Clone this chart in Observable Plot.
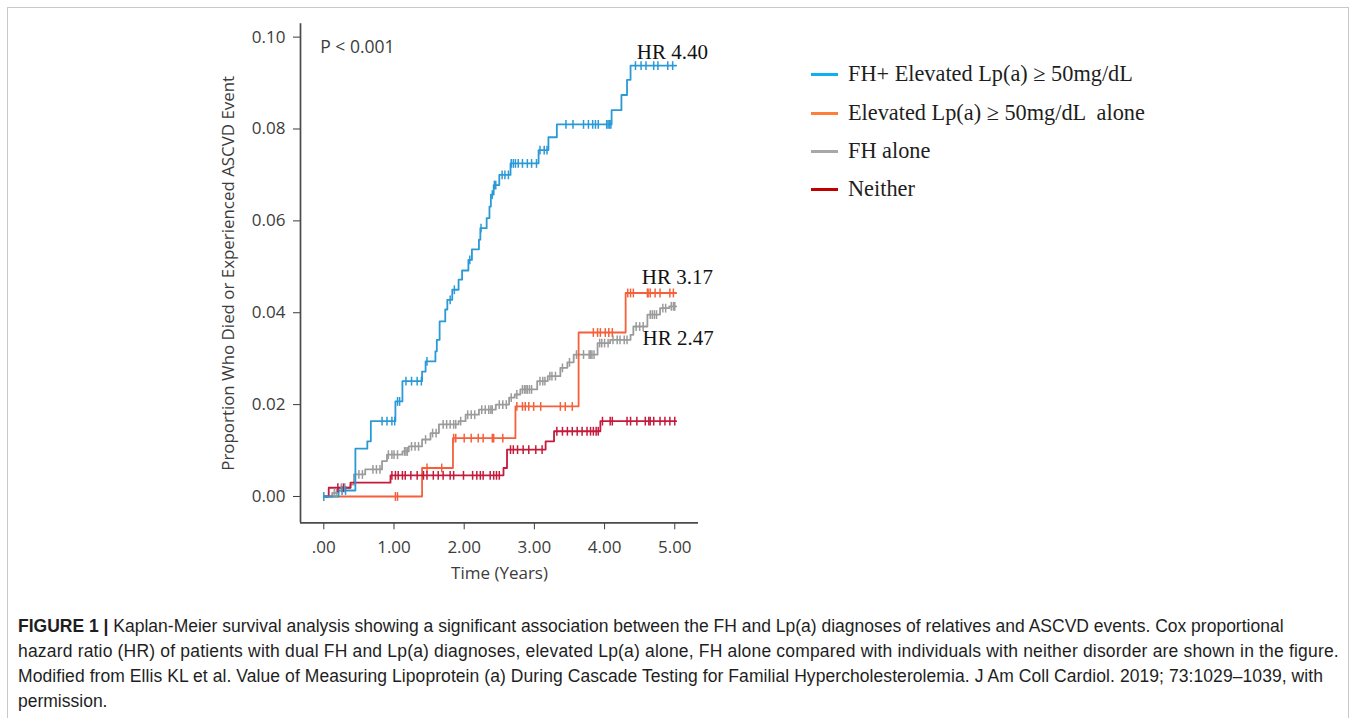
<!DOCTYPE html>
<html>
<head>
<meta charset="utf-8">
<script src="https://cdn.jsdelivr.net/npm/d3@7"></script>
<script src="https://cdn.jsdelivr.net/npm/@observablehq/plot@0.6"></script>
<style>
  body { margin: 0; background: #fff; width: 1355px; height: 718px; overflow: hidden; position: relative; font-family: "Liberation Sans", Arial, sans-serif; }
  #frame { position: absolute; left: 7px; top: 7px; width: 1340px; height: 730px; border: 1px solid #c8c8c8; }
  #chart { position: absolute; left: 200px; top: 10px; }
  #legend { position: absolute; left: 811px; top: 0px; font-family: "Liberation Serif", "Times New Roman", serif; font-size: 22.3px; color: #1e1e1e; }
  .item { position: absolute; left: 0; white-space: pre; height: 26px; line-height: 26px; }
  .swatch { display: inline-block; width: 27px; height: 3px; vertical-align: middle; margin-right: 10px; position: relative; top: -1px; }
  #caption { position: absolute; left: 18px; top: 614px; font-size: 17.5px; line-height: 25px; color: #1e1e1e; white-space: nowrap; }
</style>
</head>
<body>
<div id="frame"></div>
<div id="chart"></div>
<div id="legend"></div>
<div id="caption"></div>
<script>
// ---------- data ----------
const seriesNames = ["FH+ Elevated Lp(a) \u2265 50mg/dL", "Elevated Lp(a) \u2265 50mg/dL  alone", "FH alone", "Neither"];
const lineColors = ["#2a9ad6", "#f5603a", "#9b9b9b", "#c41a3c"];
const legendColors = ["#0fb0ee", "#ff7f3a", "#a8a8a8", "#c00000"];

const blueT = [0, 0.21, 0.45, 0.62, 0.67, 1.02, 1.12, 1.40, 1.45, 1.59, 1.61, 1.65, 1.73, 1.76, 1.83, 1.92, 1.97, 2.06, 2.11, 2.21, 2.23, 2.32, 2.36, 2.38, 2.42, 2.50, 2.66, 3.06, 3.20, 3.32, 4.10, 4.24, 4.32, 4.37, 5.02];
const blueV = [0, 0.0013, 0.0104, 0.012, 0.0164, 0.0207, 0.0251, 0.0272, 0.0294, 0.0316, 0.0341, 0.0381, 0.0407, 0.0428, 0.045, 0.0472, 0.0492, 0.0515, 0.0538, 0.0559, 0.0584, 0.0606, 0.0631, 0.0657, 0.0678, 0.070, 0.0725, 0.0754, 0.0782, 0.081, 0.0841, 0.0874, 0.0907, 0.0938, 0.0938];
const blueCensor = [0, 0.26, 0.31, 0.83, 0.90, 0.97, 1.01, 1.05, 1.08, 1.17, 1.25, 1.33, 1.39, 1.47, 1.80, 1.86, 2.08, 2.24, 2.40, 2.43, 2.45, 2.54, 2.58, 2.63, 2.67, 2.70, 2.73, 2.77, 2.83, 2.90, 2.96, 3.03, 3.08, 3.14, 3.18, 3.45, 3.55, 3.70, 3.77, 3.83, 3.87, 3.91, 4.03, 4.05, 4.07, 4.09, 4.44, 4.52, 4.59, 4.70, 4.76, 4.90, 4.97];

const orangeT = [0, 1.40, 1.84, 2.73, 3.63, 4.30, 5.02];
const orangeV = [0, 0.0062, 0.0127, 0.0196, 0.0357, 0.0443, 0.0443];
const orangeCensor = [1.02, 1.05, 1.47, 1.68, 1.85, 1.88, 2.0, 2.1, 2.2, 2.27, 2.40, 2.42, 2.55, 2.75, 2.83, 2.87, 2.92, 2.99, 3.09, 3.37, 3.44, 3.54, 3.84, 3.90, 3.94, 4.01, 4.06, 4.11, 4.33, 4.37, 4.41, 4.61, 4.62, 4.65, 4.72, 4.79, 4.93, 4.98];

const grayT = [0, 0.12, 0.21, 0.38, 0.43, 0.59, 0.83, 0.90, 1.12, 1.21, 1.40, 1.52, 1.64, 1.92, 2.02, 2.21, 2.45, 2.64, 2.72, 2.80, 3.04, 3.19, 3.37, 3.47, 3.56, 3.90, 4.08, 4.37, 4.41, 4.61, 4.79, 4.92, 5.02];
const grayV = [0, 0.0008, 0.0019, 0.0026, 0.0048, 0.0059, 0.0077, 0.0091, 0.0098, 0.0109, 0.0124, 0.0138, 0.0157, 0.0164, 0.0178, 0.0189, 0.020, 0.0215, 0.0222, 0.0233, 0.0251, 0.0262, 0.028, 0.0292, 0.0309, 0.0334, 0.0341, 0.0352, 0.037, 0.0396, 0.041, 0.0414, 0.0414];
const grayCensor = [0.15, 0.18, 0.25, 0.30, 0.50, 0.55, 0.70, 0.75, 0.80, 0.92, 0.97, 1.00, 1.05, 1.15, 1.17, 1.19, 1.25, 1.30, 1.35, 1.45, 1.55, 1.60, 1.70, 1.75, 1.80, 1.85, 1.88, 1.95, 2.05, 2.10, 2.15, 2.25, 2.30, 2.35, 2.38, 2.40, 2.50, 2.55, 2.60, 2.67, 2.75, 2.83, 2.86, 2.88, 2.90, 2.93, 2.96, 3.08, 3.12, 3.15, 3.22, 3.25, 3.30, 3.40, 3.50, 3.60, 3.70, 3.78, 3.80, 3.82, 3.85, 3.93, 3.96, 4.00, 4.05, 4.12, 4.18, 4.22, 4.28, 4.32, 4.45, 4.50, 4.55, 4.65, 4.68, 4.71, 4.74, 4.83, 4.87, 4.95, 4.98, 5.00];

const redT = [0, 0.07, 0.38, 0.95, 2.56, 2.61, 3.16, 3.28, 3.94, 5.02];
const redV = [0, 0.0019, 0.003, 0.0046, 0.0062, 0.0102, 0.012, 0.0142, 0.0164, 0.0164];
const redCensor = [0.20, 0.28, 0.97, 1.02, 1.06, 1.12, 1.16, 1.24, 1.33, 1.42, 1.47, 1.56, 1.63, 1.70, 1.80, 1.85, 1.99, 2.12, 2.18, 2.23, 2.27, 2.37, 2.42, 2.46, 2.50, 2.66, 2.70, 2.76, 2.84, 2.92, 3.02, 3.11, 3.32, 3.40, 3.47, 3.54, 3.61, 3.68, 3.75, 3.80, 3.84, 3.88, 3.91, 3.97, 4.08, 4.11, 4.32, 4.37, 4.46, 4.58, 4.63, 4.65, 4.70, 4.79, 4.86, 4.93, 5.00];

const xTicks = [0, 1, 2, 3, 4, 5];
const yTicks = [0, 0.02, 0.04, 0.06, 0.08, 0.10];
const xTitle = "Time (Years)";
const yTitle = "Proportion Who Died or Experienced ASCVD Event";
const pLabel = "P < 0.001";
const hrLabels = ["HR 4.40", "HR 3.17", "HR 2.47"];
const hrT = [4.46, 4.53, 4.54];
const hrV = [0.0968, 0.0478, 0.0345];

// ---------- build tables ----------
const curves = [[blueT, blueV, blueCensor], [orangeT, orangeV, orangeCensor], [grayT, grayV, grayCensor], [redT, redV, redCensor]];
const lineRows = [];
const censorRows = [];
curves.forEach(([T, V, C], i) => {
  T.forEach((t, j) => lineRows.push({series: seriesNames[i], t, v: V[j]}));
  C.forEach(t => {
    let k = d3.bisectRight(T, t) - 1;
    if (k < 0) k = 0;
    censorRows.push({series: seriesNames[i], t, v: V[k]});
  });
});
const order = ["FH alone", seriesNames[1], "Neither", seriesNames[0]];
lineRows.sort((a, b) => order.indexOf(a.series) - order.indexOf(b.series));
censorRows.sort((a, b) => order.indexOf(a.series) - order.indexOf(b.series));

const vtick = {draw(context, size) { const h = 4.4; context.moveTo(0, -h); context.lineTo(0, h); }};

const xDomain = [-0.332, 5.338];
const yDomain = [-0.00573, 0.1029];

const chart = Plot.plot({
  width: 520,
  height: 590,
  marginLeft: 100,
  marginRight: 22,
  marginTop: 13.3,
  marginBottom: 77.7,
  style: {fontFamily: "'Open Sans', sans-serif", fontSize: "17px", color: "#3c3c3c", background: "transparent"},
  x: {domain: xDomain, ticks: xTicks, tickFormat: d => d === 0 ? ".00" : d.toFixed(2), tickSize: 7, tickPadding: 11, label: null},
  y: {domain: yDomain, ticks: yTicks, tickFormat: d => d.toFixed(2), tickSize: 7, tickPadding: 8, label: null},
  color: {domain: seriesNames, range: lineColors},
  marks: [
    Plot.ruleX([xDomain[0]], {stroke: "#4a4a4a", strokeWidth: 1.7}),
    Plot.ruleY([yDomain[0]], {stroke: "#4a4a4a", strokeWidth: 1.7}),
    Plot.line(lineRows, {x: "t", y: "v", z: "series", stroke: "series", curve: "step-after", strokeWidth: 1.8}),
    Plot.dot(censorRows, {x: "t", y: "v", stroke: "series", symbol: vtick, fill: "none", strokeWidth: 1.5, r: 4}),
    Plot.text([xTitle], {frameAnchor: "bottom", dy: 56, fontSize: 17, fill: "#3c3c3c"}),
    Plot.text([yTitle], {frameAnchor: "left", textAnchor: "middle", dx: -72, rotate: -90, fontSize: 16.9, fill: "#3c3c3c"}),
    Plot.text([pLabel], {x: [-0.05], y: [0.0978], textAnchor: "start", fontSize: 17.5, fill: "#3c3c3c"}),
    Plot.text(hrLabels, {x: hrT, y: hrV, textAnchor: "start", fontSize: 21, fill: "#111", fontFamily: "'Liberation Serif', serif"})
  ]
});
document.getElementById("chart").appendChild(chart);

// ---------- legend ----------
const legendY = [74, 112.5, 151, 189];
const legend = document.getElementById("legend");
seriesNames.forEach((name, i) => {
  const item = document.createElement("div");
  item.className = "item";
  item.style.top = (legendY[i] - 13) + "px";
  const sw = document.createElement("span");
  sw.className = "swatch";
  sw.style.background = legendColors[i];
  item.appendChild(sw);
  item.appendChild(document.createTextNode(name));
  legend.appendChild(item);
});

// ---------- caption ----------
const captionLines = [
  "Kaplan-Meier survival analysis showing a significant association between the FH and Lp(a) diagnoses of relatives and ASCVD events. Cox proportional",
  "hazard ratio (HR) of patients with dual FH and Lp(a) diagnoses, elevated Lp(a) alone, FH alone compared with individuals with neither disorder are shown in the figure.",
  "Modified from Ellis KL et al. Value of Measuring Lipoprotein (a) During Cascade Testing for Familial Hypercholesterolemia. J Am Coll Cardiol. 2019; 73:1029\u20131039, with",
  "permission."
];
const captionSpacing = ["0px", "0.18px", "0.07px", "0px"];
const cap = document.getElementById("caption");
captionLines.forEach((line, i) => {
  const div = document.createElement("div");
  div.style.letterSpacing = captionSpacing[i];
  if (i === 0) {
    const b = document.createElement("b");
    b.textContent = "FIGURE 1 | ";
    div.appendChild(b);
  }
  div.appendChild(document.createTextNode(line));
  cap.appendChild(div);
});
</script>
</body>
</html>
